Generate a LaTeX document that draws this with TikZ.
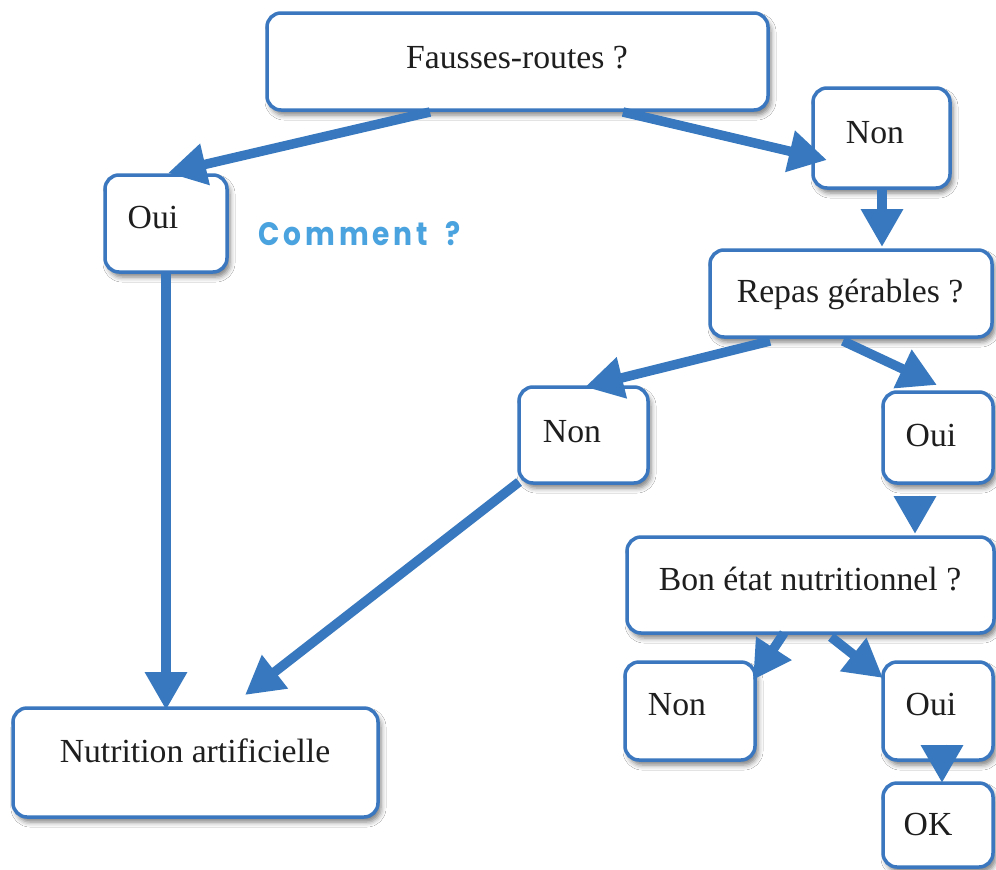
\documentclass[tikz,border=0pt]{standalone}
\usepackage{fontspec}
\setmainfont{Liberation Serif}
\newfontfamily\commentfont{Poppins}[LetterSpace=14]
\usetikzlibrary{arrows.meta,calc,shadows.blur}
\definecolor{boxblue}{RGB}{58,119,190}
\definecolor{arrblue}{RGB}{56,120,190}
\definecolor{lightblue}{RGB}{74,162,222}
\definecolor{txtcol}{RGB}{30,30,30}
\tikzset{
  box/.style={draw=boxblue, line width=3.5pt, fill=white, rounded corners=14pt,
    inner sep=0pt, outer sep=0pt,
    blur shadow={shadow xshift=3pt, shadow yshift=-5pt, shadow blur radius=5pt, shadow opacity=50}},
  txt/.style={anchor=base, inner sep=0pt, text=txtcol, font=\fontsize{33.7}{40}\selectfont},
  flowbase/.style={draw=arrblue, line width=9.5pt, -{Triangle[width=40pt,length=38pt]}},
  flow/.style={flowbase,
    preaction={draw=black!60, opacity=0.2, transform canvas={shift={(2.5pt,-3.5pt)}}}}
}
\begin{document}
\begin{tikzpicture}[x=1pt,y=-1pt]
\useasboundingbox (0,0) rectangle (996,870);
\fill[white] (0,0) rectangle (996,870);
% boxes
\node[box, minimum width=501pt, minimum height=97pt] (q1) at (517.5,61.5) {};
\node[box, minimum width=137pt, minimum height=100pt] (nonA) at (881.5,138) {};
\node[box, minimum width=122pt, minimum height=97pt] (ouiA) at (166,223.5) {};
\node[box, minimum width=282pt, minimum height=87pt] (q2) at (851,293.5) {};
\node[box, minimum width=129pt, minimum height=96pt] (nonB) at (583.5,435) {};
\node[box, minimum width=110pt, minimum height=91pt] (ouiB) at (938,437.5) {};
\node[box, minimum width=367pt, minimum height=96pt] (q3) at (810.5,585) {};
\node[box, minimum width=130pt, minimum height=98pt] (nonC) at (690,711) {};
\node[box, minimum width=110pt, minimum height=98pt] (ouiC) at (938,711) {};
\node[box, minimum width=110pt, minimum height=84pt] (ok) at (938,825) {};
\node[box, minimum width=365pt, minimum height=109pt] (nut) at (195.5,762.5) {};
% texts
\node[txt] (tq1) at (517,68) {Fausses-routes ?};
\node[txt] (tnonA) at (875,143) {Non};
\node[txt] (touiA) at (153,228) {Oui};
\node[txt] (tq2) at (850,302) {Repas gérables ?};
\node[txt] (tnonB) at (572,442) {Non};
\node[txt] (touiB) at (931,446) {Oui};
\node[txt] (tq3) at (810,590) {Bon état nutritionnel ?};
\node[txt] (tnonC) at (677,715) {Non};
\node[txt] (touiC) at (931,715) {Oui};
\node[txt] (tok) at (928,835) {OK};
\node[txt] (tnut) at (195,762) {Nutrition artificielle};
\node[anchor=base west, inner sep=0pt, text=lightblue] (comment) at (258,245)
  {\resizebox{202pt}{24pt}{\commentfont\bfseries Comment\hspace{0.6em}?}};
% arrows
\draw[flow] ($(q1.south west)+(163,2)$) -- ($(ouiA.north west)+(63,-2)$);
\draw[flow] ($(q1.south west)+(356,2)$) -- ($(nonA.north west)+(14,72)$);
\draw[flow] ($(nonA.south)+(0.5,1)$) -- ($(nonA.south |- q2.north)+(0.5,-3)$);
\draw[flow] ($(ouiA.south)+(0,1)$) -- ($(ouiA.south |- nut.north)+(0,2)$);
\draw[flow] ($(q2.south west)+(60,4)$) -- ($(nonB.north west)+(66,0)$);
\draw[flow] ($(q2.south west)+(133,4)$) -- ($(ouiB.north west)+(54,-7)$);
\draw[flow] ($(nonB.south west)+(0,-1)$) -- ($(nut.north west)+(232,-13)$);
\draw[flowbase] ($(ouiB.south west)+(32,12.5)$) -- ($(ouiB.south west |- q3.north)+(32,-3)$);
\draw[flow] ($(q3.south west)+(157,0)$) -- ($(nonC.north west)+(128,18)$);
\draw[flow] ($(q3.south west)+(204,4)$) -- ($(ouiC.north west)+(0,16)$);
\draw[flowbase] ($(ouiC.south west)+(59,-15.5)$) -- ($(ok.north west)+(59,0)$);
\end{tikzpicture}
\end{document}
